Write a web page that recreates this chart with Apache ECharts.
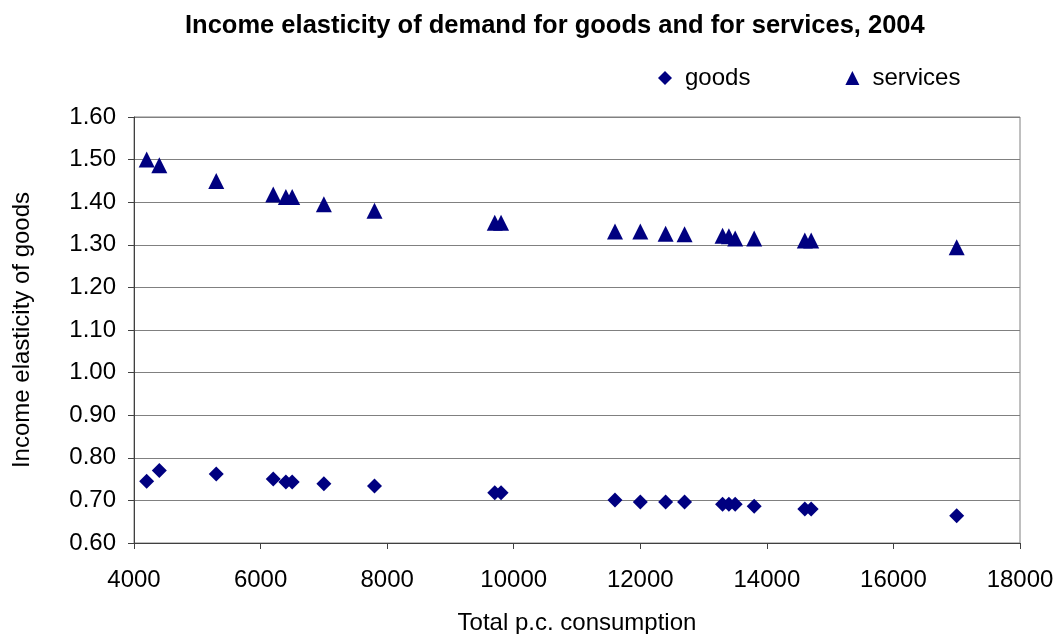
<!DOCTYPE html>
<html>
<head>
<meta charset="utf-8">
<script src="https://cdn.jsdelivr.net/npm/echarts@6/dist/echarts.min.js"></script>
<style>
  html, body { margin: 0; padding: 0; background: #fff; }
  #chart { width: 1057px; height: 634px; }
</style>
</head>
<body>
<div id="chart"></div>
<script>
  // total per-capita consumption (x)
  var consumption = [4200, 4400, 5300, 6200, 6400, 6500, 7000, 7800, 9700, 9800,
                     11600, 12000, 12400, 12700, 13300, 13400, 13500, 13800, 14600, 14700, 17000];
  var goodsElasticity = [0.745, 0.770, 0.762, 0.750, 0.743, 0.743, 0.739, 0.734, 0.718, 0.718,
                         0.701, 0.696, 0.696, 0.696, 0.691, 0.691, 0.691, 0.686, 0.680, 0.680, 0.664];
  var servicesElasticity = [1.500, 1.487, 1.450, 1.418, 1.412, 1.412, 1.395, 1.380, 1.352, 1.352,
                            1.331, 1.331, 1.326, 1.325, 1.321, 1.320, 1.315, 1.315, 1.310, 1.310, 1.294];

  function pairs(xs, ys) {
    var out = [];
    for (var i = 0; i < xs.length; i++) out.push([xs[i], ys[i]]);
    return out;
  }

  var chartDom = document.getElementById('chart');
  var myChart = echarts.init(chartDom);
  var font = 'Liberation Sans, Arial, sans-serif';
  var option = {
    animation: false,
    title: {
      text: 'Income elasticity of demand for goods and for services, 2004',
      left: 180,
      top: 8,
      textStyle: { fontFamily: font, fontSize: 25.5, fontWeight: 'bold', color: '#000' }
    },
    legend: {
      data: [{ name: 'goods', icon: 'diamond' }, { name: 'services', icon: 'triangle' }],
      left: 653,
      top: 61,
      itemWidth: 14,
      itemHeight: 14,
      itemGap: 95,
      textStyle: { fontFamily: font, fontSize: 24, color: '#000', padding: [0, 0, 0, 8] }
    },
    grid: {
      left: 134,
      right: 37,
      top: 117,
      bottom: 91,
      outerBoundsMode: 'none',
      containLabel: false,
      show: true,
      borderColor: '#808080',
      borderWidth: 1
    },
    xAxis: {
      type: 'value',
      min: 4000,
      max: 18000,
      interval: 2000,
      name: 'Total p.c. consumption',
      nameLocation: 'middle',
      nameGap: 68,
      nameTextStyle: { fontFamily: font, fontSize: 24, color: '#000' },
      axisLine: { show: true, lineStyle: { color: '#404040', width: 1 } },
      axisTick: { show: true, inside: false, length: 6, lineStyle: { color: '#404040' } },
      axisLabel: {
        fontFamily: font, fontSize: 24, color: '#000', margin: 25,
        formatter: function (v) { return String(v); }
      },
      splitLine: { show: false }
    },
    yAxis: {
      type: 'value',
      min: 0.6,
      max: 1.6,
      interval: 0.1,
      name: 'Income elasticity of goods',
      nameLocation: 'middle',
      nameGap: 100,
      nameTextStyle: { fontFamily: font, fontSize: 24, color: '#000' },
      axisLine: { show: true, lineStyle: { color: '#404040', width: 1 } },
      axisTick: { show: true, inside: false, length: 6, lineStyle: { color: '#404040' } },
      axisLabel: {
        fontFamily: font, fontSize: 24, color: '#000', margin: 18,
        formatter: function (v) { return v.toFixed(2); }
      },
      splitLine: { show: true, lineStyle: { color: '#808080', width: 1 } }
    },
    series: [
      {
        name: 'goods',
        type: 'scatter',
        symbol: 'diamond',
        symbolSize: 15,
        itemStyle: { color: '#000080', opacity: 1 },
        data: pairs(consumption, goodsElasticity)
      },
      {
        name: 'services',
        type: 'scatter',
        symbol: 'triangle',
        symbolSize: 16,
        itemStyle: { color: '#000080', opacity: 1 },
        data: pairs(consumption, servicesElasticity)
      }
    ]
  };
  option && myChart.setOption(option);
</script>
</body>
</html>
